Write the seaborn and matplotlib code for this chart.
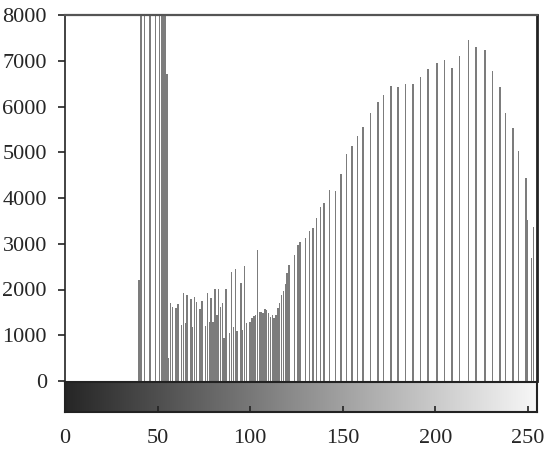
import numpy as np
import pandas as pd
import matplotlib
matplotlib.use("Agg")
import matplotlib.pyplot as plt
import seaborn as sns
from matplotlib.colors import LinearSegmentedColormap

# ---- data (intensity bin -> pixel count) ----
bins = [40, 41, 43, 46, 49, 51, 52, 53, 54, 55, 56,
        57, 58, 60, 61, 63, 64, 65, 66, 68, 69, 70, 71, 73, 74, 76, 77, 78, 79, 80, 81,
        82, 83, 84, 85, 86, 87, 89, 90, 91, 92, 93, 95, 96, 97, 98, 100, 101, 102, 103,
        104, 105, 106, 107, 108, 109, 110, 111, 112, 113, 114, 115, 116, 117, 118, 119,
        120, 121, 124, 126, 127, 130, 132, 134, 136, 138, 140, 143, 146, 149, 152,
        155, 158, 161, 165, 169, 172, 176, 180, 184, 188, 192, 196, 201, 205, 209, 213,
        218, 222, 227, 231, 235, 238, 242, 245, 249, 250, 252, 253]
counts = [2200, 15000, 15000, 15000, 15000, 15000, 15000, 15000, 15000, 6700, 500,
          1700, 1620, 1600, 1680, 1220, 1920, 1270, 1880, 1790, 1180, 1840, 1730, 1570, 1750, 1200, 1920, 1290, 1810, 1290, 2010,
          1440, 2010, 1620, 1700, 940, 2010, 1050, 2380, 1180, 2450, 1090, 2140, 1110, 2510, 1270, 1290, 1370, 1420, 1440,
          2870, 1510, 1510, 1490, 1570, 1550, 1490, 1400, 1440, 1370, 1440, 1600, 1700, 1880, 1960, 2120,
          2360, 2540, 2760, 2970, 3040, 3130, 3280, 3350, 3560, 3810, 3900, 4180, 4160, 4520, 4960,
          5140, 5360, 5550, 5860, 6100, 6250, 6450, 6430, 6490, 6490, 6640, 6820, 6960, 7020, 6840, 7100,
          7450, 7300, 7230, 6780, 6430, 5860, 5530, 5030, 4440, 3520, 2690, 3370]
yticks = [0, 1000, 2000, 3000, 4000, 5000, 6000, 7000, 8000]
xticks = [0, 50, 100, 150, 200, 250]

df = pd.DataFrame({"bin": bins, "count": counts})

sns.set_style("white")
plt.rcParams["font.family"] = ["Liberation Serif", "DejaVu Serif"]

fig = plt.figure(figsize=(5.48, 4.55), dpi=100)
ax = fig.add_axes([65 / 548, 74 / 455, 472 / 548, 366 / 455])
cax = fig.add_axes([65 / 548, 43 / 455, 472 / 548, 30 / 455])

sns.histplot(data=df, x="bin", weights="count", discrete=True, shrink=0.8,
             color="#7c7c7c", alpha=1, linewidth=0, ax=ax)

ax.set_xlim(0, 255)
ax.set_ylim(0, 8000)
ax.set_yticks(yticks)
ax.set_yticklabels([str(v) for v in yticks])
ax.set_xticks([])
ax.set_xlabel("")
ax.set_ylabel("")
ax.tick_params(axis="y", direction="out", length=5, width=1.2, color="#222222",
               labelsize=16, pad=8, left=True)
for side in ["left", "right", "top"]:
    ax.spines[side].set_visible(True)
    ax.spines[side].set_color("#222222")
ax.spines["left"].set_linewidth(1.2)
ax.spines["right"].set_linewidth(2.0)
ax.spines["top"].set_linewidth(1.6)
ax.spines["top"].set_color("#555555")
ax.spines["bottom"].set_visible(False)

cmap = LinearSegmentedColormap.from_list("g", ["#262626", "#f7f7f7"])
cax.imshow(np.linspace(0, 1, 256)[None, :], cmap=cmap, aspect="auto",
           extent=[0, 255, 0, 1])
cax.set_xlim(0, 255)
cax.set_ylim(0, 1)
cax.set_yticks([])
cax.set_xticks(xticks)
cax.set_xticklabels([str(v) for v in xticks])
cax.tick_params(axis="x", direction="in", length=4, width=1.2, color="#222222",
                labelsize=16, pad=12, bottom=True)
for side in ["left", "right", "top", "bottom"]:
    cax.spines[side].set_visible(True)
    cax.spines[side].set_color("#222222")
    cax.spines[side].set_linewidth(1.5)

fig.savefig("out.png", dpi=100)
